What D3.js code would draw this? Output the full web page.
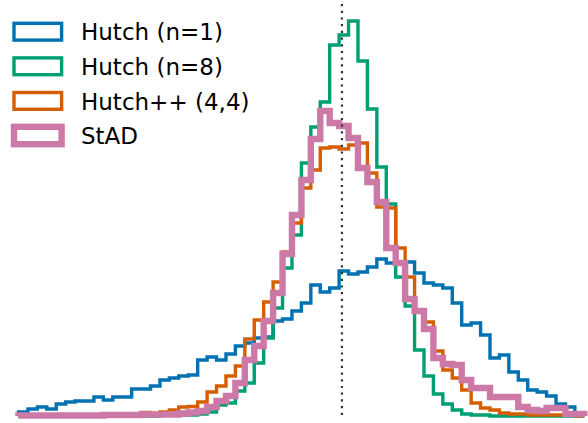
<!DOCTYPE html>
<html>
<head>
<meta charset="utf-8">
<script src="https://cdn.jsdelivr.net/npm/d3@7"></script>
<style>
  body { margin: 0; background: #fff; }
  svg { display: block; }
  text { font-family: "DejaVu Sans", sans-serif; }
</style>
</head>
<body>
<svg width="588" height="423"></svg>
<script>
// counts per bin (60 equal bins)
var nBins = 60;
var trueValue = 34.3; // in bin units, the dotted line

var hutch1 = [4, 7, 9, 7, 12, 14, 15, 15, 19, 16, 19, 19, 27, 27, 30, 36, 38, 40, 41, 56,
  59, 56, 62, 70, 73, 78, 79, 95, 97, 105, 113, 131, 124, 128, 145, 142, 144, 149, 157, 153,
  153, 154, 143, 133, 131, 128, 113, 91, 93, 81, 58, 61, 44, 36, 26, 24, 20, 12, 9, 1];
var hutch8 = [0, 0, 0, 0, 0, 0, 0, 0, 0, 0, 0, 0, 0, 0, 0, 1, 1, 1, 1, 2,
  4, 11, 13, 25, 33, 53, 78, 108, 148, 181, 253, 289, 314, 371, 381, 395, 355, 307, 249, 212,
  139, 110, 66, 40, 22, 12, 6, 2, 1, 1, 0, 0, 0, 0, 0, 0, 0, 0, 0, 0];
var hutchpp = [0, 0, 0, 0, 0, 0, 0, 0, 1, 1, 1, 1, 1, 3.5, 2.5, 4, 6, 9, 9.5, 14,
  24, 30, 40, 50, 77, 96, 114, 134, 164, 193, 228, 246, 268, 269, 267, 271, 273, 243, 209, 208,
  168, 139, 105, 94, 65, 46, 38, 26, 13, 8, 6, 3, 2, 2, 1, 1, 1, 1, 1, 0];
var stad = [0.5, 0.5, 0.5, 0.5, 0.5, 0.5, 0.5, 0.5, 0.5, 1, 1, 1, 1, 1.5, 1.5, 1.5, 1.5, 2.5, 3.5, 5,
  9, 15, 20, 33, 56, 70, 95, 123, 162, 201, 236, 277, 305, 293, 290, 278, 248, 234, 214, 168,
  153, 117, 105, 87, 58, 52, 51, 36, 28, 28, 19, 19, 19, 9, 6, 5, 8, 8, 2, 2];

var labels = ["Hutch (n=1)", "Hutch (n=8)", "Hutch++ (4,4)", "StAD"];
var colors = ["#0072B2", "#009E73", "#D55E00", "#CC79A7"];
var widths = [3.4, 3.4, 3.4, 6.4];
var series = [hutch1, hutch8, hutchpp, stad];

var svg = d3.select("svg");

var x = d3.scaleLinear().domain([0, nBins]).range([18.5, 584.3]);
var y = d3.scaleLinear().domain([0, 400]).range([416, 16]);

// step outline like histtype="step"
function stepPoints(counts) {
  var pts = [[0, 0]];
  counts.forEach(function(c, i) {
    pts.push([i, c]);
    pts.push([i + 1, c]);
  });
  pts.push([nBins, 0]);
  return pts;
}

var line = d3.line()
    .x(function(d) { return x(d[0]); })
    .y(function(d) { return y(d[1]); });

svg.append("g")
    .attr("class", "hists")
  .selectAll("path")
    .data(series)
    .enter().append("path")
      .attr("d", function(d) { return line(stepPoints(d)); })
      .attr("fill", "none")
      .attr("stroke", function(d, i) { return colors[i]; })
      .attr("stroke-width", function(d, i) { return widths[i]; })
      .attr("stroke-linejoin", "miter");

svg.append("line")
    .attr("x1", x(trueValue)).attr("x2", x(trueValue))
    .attr("y1", 0).attr("y2", 418)
    .attr("stroke", "#333")
    .attr("stroke-width", 2.2)
    .attr("stroke-dasharray", "2.2,4.5")
    .attr("stroke-dashoffset", -4);

// legend
var legend = svg.append("g")
    .attr("class", "legend")
  .selectAll("g")
    .data(labels)
    .enter().append("g")
      .attr("transform", function(d, i) { return "translate(0," + (31.7 + i * 34.6) + ")"; });

legend.append("rect")
    .attr("x", 14)
    .attr("y", function(d, i) { return i == 3 ? -8.7 : -8.4; })
    .attr("width", 47.6)
    .attr("height", function(d, i) { return i == 3 ? 17.4 : 16.8; })
    .attr("fill", "none")
    .attr("stroke", function(d, i) { return colors[i]; })
    .attr("stroke-width", function(d, i) { return widths[i]; });

legend.append("text")
    .attr("x", 81)
    .attr("y", 8.6)
    .attr("font-size", 23)
    .attr("fill", "#000")
    .text(function(d) { return d; });
</script>
</body>
</html>
